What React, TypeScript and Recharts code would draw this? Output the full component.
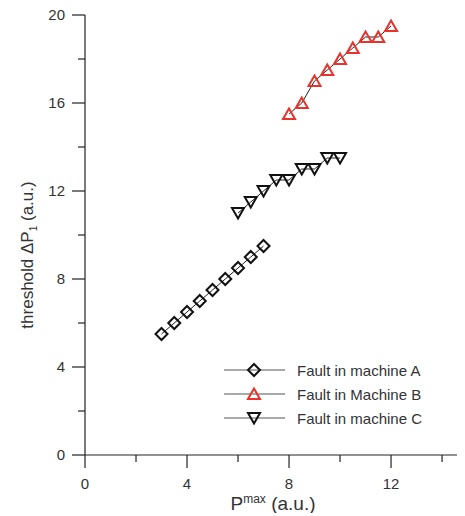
import { ScatterChart, Scatter, XAxis, YAxis } from 'recharts';

const machineA = [
  { x: 3, y: 5.5 }, { x: 3.5, y: 6 }, { x: 4, y: 6.5 }, { x: 4.5, y: 7 }, { x: 5, y: 7.5 },
  { x: 5.5, y: 8 }, { x: 6, y: 8.5 }, { x: 6.5, y: 9 }, { x: 7, y: 9.5 },
];
const machineB = [
  { x: 8, y: 15.5 }, { x: 8.5, y: 16 }, { x: 9, y: 17 }, { x: 9.5, y: 17.5 }, { x: 10, y: 18 },
  { x: 10.5, y: 18.5 }, { x: 11, y: 19 }, { x: 11.5, y: 19 }, { x: 12, y: 19.5 },
];
const machineC = [
  { x: 6, y: 11 }, { x: 6.5, y: 11.5 }, { x: 7, y: 12 }, { x: 7.5, y: 12.5 }, { x: 8, y: 12.5 },
  { x: 8.5, y: 13 }, { x: 9, y: 13 }, { x: 9.5, y: 13.5 }, { x: 10, y: 13.5 },
];
const xTicks = [0, 2, 4, 6, 8, 10, 12, 14];
const yTicks = [0, 2, 4, 6, 8, 10, 12, 14, 16, 18, 20];
const legendNames = ['Fault in machine A', 'Fault in Machine B', 'Fault in machine C'];

const FONT = 'Arial, "Liberation Sans", sans-serif';
const RED = '#e8322b';

const Diamond = ({ cx, cy }: any) => (
  <polygon points={`${cx},${cy - 6} ${cx + 6},${cy} ${cx},${cy + 6} ${cx - 6},${cy}`}
    fill="none" stroke="#111" strokeWidth={2} />
);
const TriUp = ({ cx, cy }: any) => (
  <polygon points={`${cx},${cy - 5.5} ${cx + 6},${cy + 5} ${cx - 6},${cy + 5}`}
    fill="none" stroke={RED} strokeWidth={2} />
);
const TriDown = ({ cx, cy }: any) => (
  <polygon points={`${cx},${cy + 5.5} ${cx + 6},${cy - 5} ${cx - 6},${cy - 5}`}
    fill="none" stroke="#111" strokeWidth={2} />
);
const markers = [Diamond, TriUp, TriDown];

const XTick = ({ x, y, payload }: any) => {
  const major = payload.value % 4 === 0;
  return (
    <g>
      <line x1={x} x2={x} y1={y} y2={y + (major ? 13 : 7)} stroke="#222" strokeWidth={1.2} />
      {major && (
        <text x={x} y={y + 34} textAnchor="middle" fontSize={15} fill="#333" fontFamily={FONT}>
          {payload.value}
        </text>
      )}
    </g>
  );
};

const YTick = ({ x, y, payload }: any) => {
  const major = payload.value % 4 === 0;
  return (
    <g>
      <line x1={x} x2={x - (major ? 13 : 7)} y1={y} y2={y} stroke="#222" strokeWidth={1.2} />
      {major && (
        <text x={x - 20} y={y} dy="0.36em" textAnchor="end" fontSize={15} fill="#333" fontFamily={FONT}>
          {payload.value}
        </text>
      )}
    </g>
  );
};

const LegendBox = () => (
  <div style={{ fontFamily: FONT, position: 'absolute', left: 216, top: 350 }}>
    {legendNames.map((name, i) => {
      const M = markers[i];
      return (
        <div key={name} style={{ display: 'flex', alignItems: 'center', height: 24 }}>
          <svg width={66} height={24}>
            <line x1={0} x2={61} y1={12} y2={12} stroke="#555" strokeWidth={1.2} />
            <M cx={30} cy={12} />
          </svg>
          <span style={{ fontSize: 15, color: '#333', marginLeft: 7 }}>{name}</span>
        </div>
      );
    })}
  </div>
);

export default function App() {
  return (
    <div style={{ position: 'relative', width: 457, height: 505 }}>
      <ScatterChart width={457} height={505} margin={{ top: 7, right: 0, bottom: 0, left: 0 }}>
        <XAxis
          type="number"
          dataKey="x"
          domain={[0, 14.9]}
          ticks={xTicks}
          interval={0}
          tickSize={0}
          tickMargin={0}
          tick={<XTick />}
          height={58}
          stroke="#222"
          strokeWidth={1.2}
          label={() => (
            <text x={265} y={502} textAnchor="middle" fontSize={19} fill="#333" fontFamily={FONT}>
              P<tspan fontSize={12} dy={-7}>max</tspan><tspan dy={7}> (a.u.)</tspan>
            </text>
          )}
        />
        <YAxis
          type="number"
          dataKey="y"
          domain={[0, 20]}
          ticks={yTicks}
          interval={0}
          tickSize={0}
          tickMargin={0}
          tick={<YTick />}
          width={77}
          stroke="#222"
          strokeWidth={1.2}
          label={() => (
            <text x={19} y={247} transform="rotate(-90 19 247)" textAnchor="middle" dy="0.36em"
              fontSize={17} fill="#333" fontFamily={FONT}>
              threshold ΔP<tspan fontSize={10} dy={4}>1</tspan><tspan dy={-4}> (a.u.)</tspan>
            </text>
          )}
        />
        <Scatter name={legendNames[0]} data={machineA} shape={<Diamond />}
          line={{ stroke: '#222', strokeWidth: 1 }} isAnimationActive={false} />
        <Scatter name={legendNames[1]} data={machineB} shape={<TriUp />}
          line={{ stroke: '#222', strokeWidth: 1 }} isAnimationActive={false} />
        <Scatter name={legendNames[2]} data={machineC} shape={<TriDown />}
          line={{ stroke: '#222', strokeWidth: 1 }} isAnimationActive={false} />
      </ScatterChart>
      <LegendBox />
    </div>
  );
}
